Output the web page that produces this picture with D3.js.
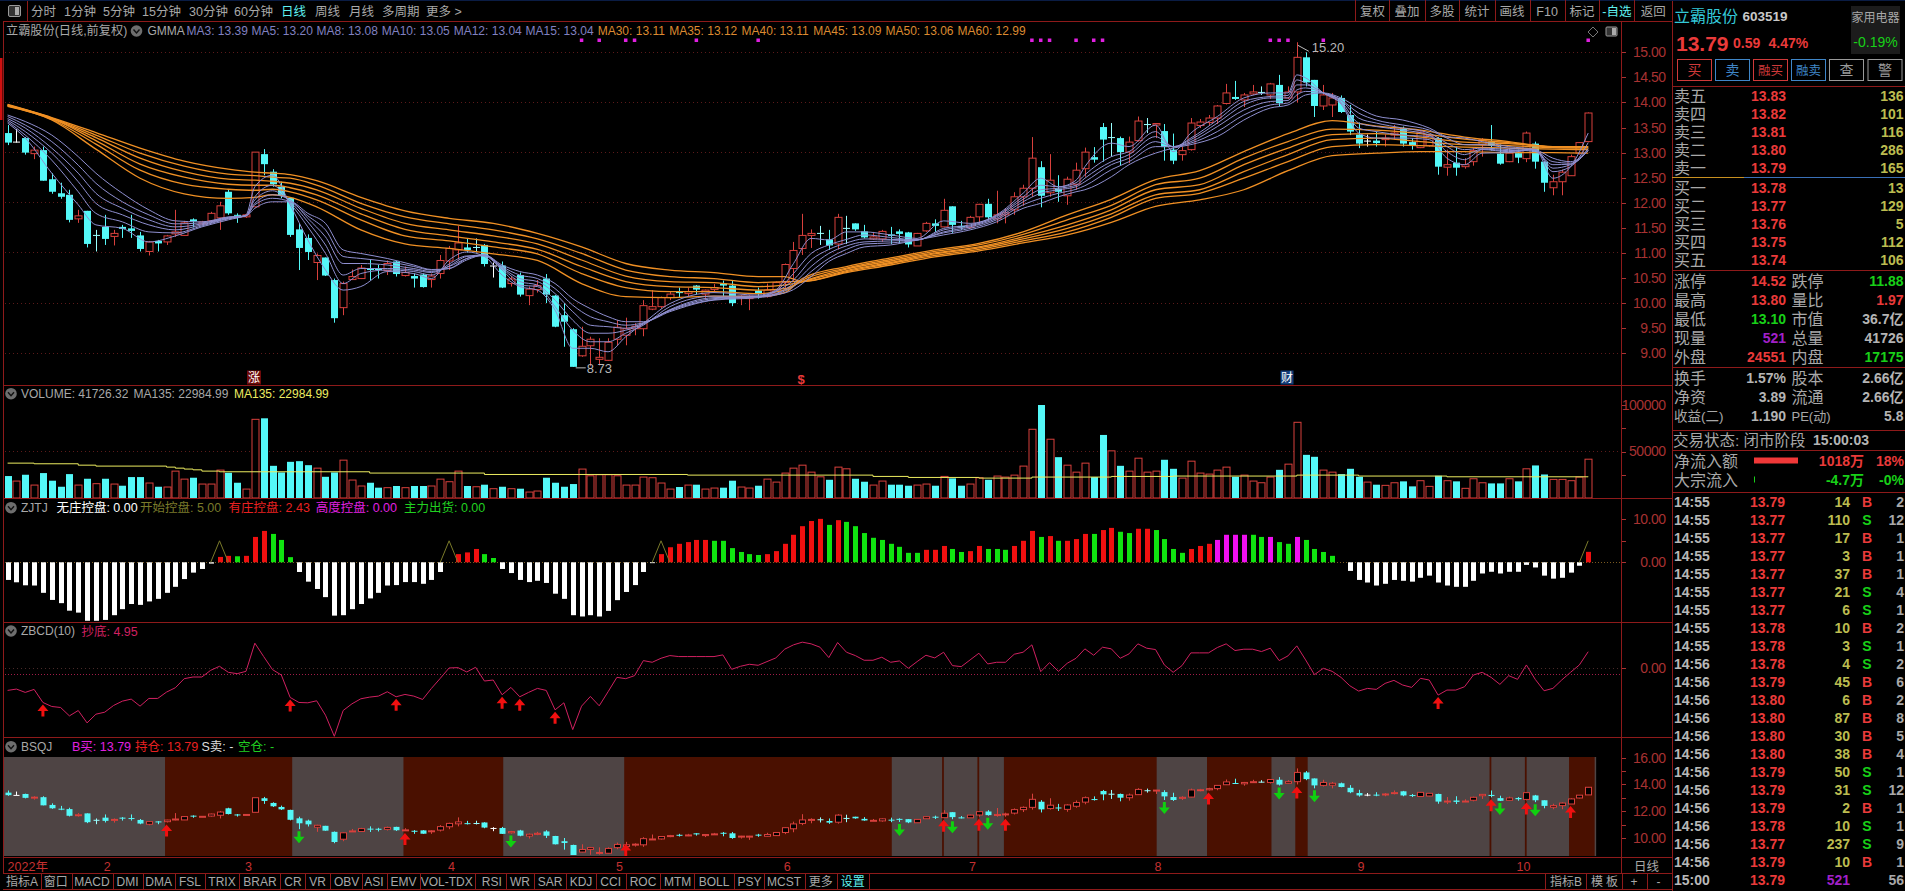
<!DOCTYPE html>
<html><head><meta charset="utf-8">
<script src="https://cdn.jsdelivr.net/npm/d3@7/dist/d3.min.js"></script>
<style>html,body{margin:0;padding:0;background:#000;overflow:hidden}svg{display:block}
text{font-family:"Liberation Sans","Noto Sans CJK SC",sans-serif}</style></head><body>
<svg id="c" width="1905" height="891"></svg>
<script>
// ---------- candle data ----------
const opens=[13.39,13.22,13.29,12.98,13.05,12.47,12.19,12.16,11.68,11.84,
11.36,11.52,11.33,11.52,11.49,11.35,11.03,11.24,11.22,11.38,
11.35,11.67,11.58,11.64,11.70,12.22,11.76,11.72,11.92,12.97,
12.62,12.32,12.10,11.47,11.30,10.81,10.91,10.46,9.91,10.47,
10.49,10.70,10.69,10.65,10.83,10.55,10.54,10.57,10.47,10.59,
10.84,11.06,11.11,11.12,11.16,10.75,10.75,10.39,10.56,10.15,
10.27,10.49,10.15,9.76,9.48,8.95,9.15,8.88,8.86,9.28,
9.36,9.49,9.49,9.88,9.93,10.11,10.24,10.19,10.35,10.18,
10.27,10.39,10.35,10.11,10.09,10.25,10.13,10.18,10.41,10.69,
11.09,11.35,11.40,11.27,11.18,11.50,11.59,11.43,11.28,11.28,
11.37,11.43,11.41,11.14,11.44,11.59,11.52,11.93,11.54,11.51,
11.72,11.98,11.68,11.76,11.86,12.12,12.29,12.71,12.20,12.28,
12.14,12.37,12.68,12.91,13.51,13.31,13.29,13.01,13.24,13.57,
13.55,13.43,13.06,12.96,13.06,13.54,13.60,13.69,13.98,14.11,
14.05,14.17,14.21,14.15,14.35,14.09,14.21,14.90,14.45,13.93,
13.95,14.09,13.75,13.36,13.24,13.24,13.26,13.35,13.49,13.21,
13.10,13.14,13.29,12.71,12.80,12.72,12.82,13.16,13.22,12.98,
12.82,12.99,12.88,13.18,12.82,12.30,12.42,12.54,12.99,13.22];
const closes=[13.20,13.22,13.00,13.05,12.44,12.22,12.12,11.66,11.74,11.18,
11.36,11.28,11.39,11.48,11.44,11.08,11.22,11.19,11.34,11.42,
11.60,11.63,11.62,11.79,11.94,11.79,11.74,11.76,13.01,12.77,
12.37,12.14,11.36,11.10,11.02,10.95,10.55,9.70,10.39,10.53,
10.70,10.66,10.66,10.79,10.58,10.61,10.49,10.32,10.54,10.85,
11.09,11.20,11.06,11.12,10.78,10.75,10.31,10.48,10.17,10.28,
10.35,10.17,9.53,9.63,8.73,9.14,9.28,8.92,9.22,9.52,
9.49,9.54,9.95,9.93,10.11,10.18,10.20,10.23,10.27,10.26,
10.31,10.35,10.00,10.14,10.14,10.18,10.26,10.41,10.77,11.05,
11.35,11.39,11.40,11.15,11.71,11.50,11.47,11.31,11.32,11.43,
11.34,11.38,11.17,11.39,11.59,11.54,11.85,11.56,11.51,11.71,
11.97,11.71,11.76,11.80,12.12,12.29,12.89,12.14,12.45,12.22,
12.47,12.65,13.01,12.86,13.26,13.31,13.01,13.21,13.63,13.57,
13.58,13.11,12.84,13.04,13.59,13.61,13.69,13.93,14.19,14.07,
14.15,14.21,14.21,14.37,13.99,14.21,14.90,14.40,13.93,14.15,
14.09,13.81,13.42,13.18,13.24,13.19,13.29,13.39,13.18,13.14,
13.41,13.34,12.72,12.76,12.70,12.76,13.04,13.26,13.14,12.78,
12.99,12.90,13.39,12.82,12.40,12.42,12.61,12.92,13.20,13.79];
const highs=[13.55,13.47,13.31,13.12,13.12,12.59,12.40,12.26,11.86,11.84,
11.46,11.76,11.46,11.56,11.76,11.42,11.24,11.26,11.36,11.86,
11.64,11.69,11.64,11.82,12.02,12.26,11.79,11.78,13.01,13.07,
12.67,12.42,12.11,11.59,11.37,10.99,10.91,10.49,10.43,10.67,
10.76,10.87,10.76,10.85,10.84,10.73,10.59,10.59,10.59,10.96,
11.14,11.54,11.28,11.29,11.18,10.81,10.83,10.53,10.61,10.33,
10.46,10.58,10.16,10.00,9.50,9.53,9.33,9.30,9.30,9.66,
9.71,9.60,10.06,10.26,10.13,10.23,10.31,10.31,10.36,10.27,
10.38,10.45,10.45,10.16,10.16,10.31,10.39,10.43,10.79,11.22,
11.78,11.47,11.54,11.46,11.78,11.74,11.59,11.56,11.42,11.46,
11.52,11.47,11.42,11.40,11.62,11.67,12.08,11.93,11.64,11.74,
11.98,12.08,12.24,11.89,12.21,12.36,13.31,12.83,12.97,12.55,
12.52,12.80,13.10,13.11,13.59,13.59,13.32,13.32,13.72,13.69,
13.59,13.57,13.38,13.12,13.69,13.67,13.75,13.95,14.37,14.43,
14.19,14.35,14.32,14.39,14.55,14.32,15.20,15.00,14.45,14.35,
14.19,14.14,13.95,13.60,13.36,13.42,13.36,13.55,13.52,13.29,
13.42,13.36,13.31,13.06,13.12,12.89,13.09,13.29,13.55,13.16,
13.09,13.06,13.42,13.22,12.82,12.56,12.66,12.96,13.21,13.80];
const lows=[13.15,13.20,12.96,12.87,12.44,12.18,12.08,11.61,11.60,11.11,
11.03,11.16,11.15,11.30,11.30,11.03,10.95,11.03,11.16,11.32,
11.34,11.51,11.56,11.60,11.46,11.76,11.60,11.70,11.91,12.55,
12.32,12.09,11.32,10.66,10.86,10.46,10.54,9.61,9.76,10.46,
10.48,10.45,10.49,10.56,10.53,10.53,10.31,10.31,10.31,10.49,
10.66,10.87,11.01,11.01,10.73,10.51,10.30,10.33,10.13,9.96,
10.21,10.00,9.52,9.13,8.73,8.93,8.75,8.76,8.85,9.16,
9.16,9.36,9.34,9.86,9.89,10.06,10.11,10.14,10.18,10.07,
10.23,10.13,9.94,9.96,9.86,10.09,10.11,10.16,10.29,10.43,
10.96,11.10,11.16,11.06,11.07,11.18,11.44,11.29,11.26,11.22,
11.18,11.20,11.11,11.14,11.42,11.42,11.51,11.40,11.46,11.50,
11.59,11.67,11.59,11.59,11.76,11.94,12.12,11.91,12.12,12.02,
11.96,12.26,12.52,12.80,12.82,12.92,12.74,12.79,13.22,13.39,
13.29,12.84,12.77,12.84,13.04,13.49,13.55,13.57,13.96,14.05,
13.91,14.15,14.15,14.07,13.92,14.07,14.00,14.32,13.71,13.85,
13.71,13.79,13.35,13.09,13.12,13.12,13.12,13.26,13.12,13.06,
13.09,13.12,12.56,12.54,12.54,12.68,12.74,12.92,13.04,12.76,
12.81,12.79,12.81,12.68,12.22,12.15,12.15,12.54,12.96,13.22];
const whiteCrosses=[1,55,154];
// ---------- GMMA lines (read at these candle positions) ----------
const shortIdx=[0,2,5,8,10,13,16,19,22,25,27,28,30,32,34,36,38,40,43,46,48,50,52,54,56,58,60,62,64,66,68,70,72,75,80,85,87,89,91,93,95,97,100,103,106,109,112,115,117,119,121,122,125,127,130,132,134,137,140,143,145,146,147,149,151,153,155,158,161,163,165,167,170,173,175,177,179];
const ma15=[13.75,13.62,13.35,12.92,12.59,12.19,11.86,11.64,11.62,11.72,11.74,11.89,12.02,12.02,11.79,11.59,11.06,10.99,10.89,10.76,10.67,10.69,10.86,10.96,10.76,10.63,10.56,10.39,10.09,9.89,9.73,9.63,9.63,9.83,10.06,10.11,10.16,10.27,10.53,10.83,10.99,11.12,11.16,11.26,11.36,11.46,11.62,11.89,11.99,12.12,12.22,12.26,12.52,12.76,12.99,13.09,13.16,13.32,13.65,13.89,13.95,14.05,14.15,14.19,14.09,13.89,13.73,13.65,13.49,13.32,13.29,13.22,13.12,13.06,12.89,12.82,13.04];
const ma12=[13.72,13.55,13.22,12.75,12.39,12.02,11.76,11.58,11.60,11.71,11.74,11.96,12.09,12.02,11.74,11.46,10.93,10.89,10.83,10.73,10.66,10.69,10.89,10.96,10.73,10.56,10.49,10.29,9.96,9.73,9.63,9.56,9.61,9.85,10.07,10.13,10.18,10.33,10.63,10.89,11.07,11.18,11.20,11.26,11.40,11.49,11.66,11.96,12.09,12.19,12.27,12.34,12.66,12.82,13.12,13.12,13.19,13.42,13.75,13.95,13.99,14.15,14.22,14.19,14.05,13.79,13.65,13.55,13.45,13.29,13.16,13.16,13.09,13.04,12.82,12.79,13.04];
const ma10=[13.68,13.49,13.09,12.59,12.19,11.89,11.66,11.52,11.58,11.70,11.74,11.99,12.16,12.06,11.69,11.32,10.79,10.79,10.76,10.69,10.63,10.73,10.89,10.96,10.71,10.49,10.43,10.19,9.83,9.56,9.53,9.50,9.60,9.86,10.09,10.13,10.19,10.39,10.73,10.99,11.14,11.22,11.24,11.26,11.42,11.52,11.69,12.02,12.19,12.26,12.32,12.42,12.76,12.89,13.22,13.12,13.22,13.52,13.85,14.02,14.04,14.25,14.29,14.19,14.05,13.69,13.59,13.49,13.39,13.19,13.06,13.09,13.06,13.02,12.76,12.77,13.05];
const ma8=[13.65,13.42,12.99,12.42,11.99,11.76,11.56,11.46,11.56,11.69,11.74,12.06,12.24,12.02,11.62,11.16,10.56,10.69,10.69,10.66,10.61,10.74,10.93,10.96,10.69,10.43,10.36,10.06,9.66,9.40,9.40,9.46,9.58,9.87,10.11,10.13,10.23,10.46,10.86,11.07,11.20,11.28,11.27,11.26,11.46,11.54,11.72,12.07,12.26,12.29,12.35,12.49,12.82,12.96,13.32,13.12,13.26,13.59,13.95,14.09,14.09,14.35,14.35,14.19,14.02,13.59,13.52,13.45,13.35,13.12,12.96,13.07,13.04,13.06,12.69,12.76,13.08];
const ma5=[13.62,13.35,12.85,12.22,11.79,11.62,11.42,11.40,11.54,11.68,11.74,12.12,12.35,11.99,11.52,10.99,10.39,10.59,10.66,10.63,10.56,10.78,10.94,10.94,10.66,10.36,10.33,9.93,9.46,9.23,9.23,9.40,9.56,9.93,10.14,10.14,10.24,10.59,10.99,11.16,11.27,11.36,11.31,11.26,11.49,11.56,11.74,12.12,12.35,12.32,12.40,12.56,12.92,13.02,13.42,13.11,13.29,13.65,14.02,14.12,14.14,14.45,14.39,14.19,13.99,13.49,13.42,13.35,13.32,13.02,12.86,13.06,13.02,13.07,12.62,12.72,13.20];
const ma3=[13.59,13.29,12.59,11.96,11.56,11.49,11.22,11.34,11.52,11.66,11.76,12.32,12.55,11.96,11.26,10.66,10.26,10.33,10.63,10.59,10.49,10.86,11.02,10.93,10.56,10.33,10.26,9.86,9.10,9.10,9.03,9.33,9.60,9.99,10.21,10.16,10.26,10.79,11.29,11.26,11.42,11.42,11.36,11.29,11.64,11.59,11.76,12.19,12.49,12.32,12.45,12.72,13.19,13.12,13.55,13.02,13.39,13.72,14.09,14.19,14.19,14.55,14.49,14.19,13.97,13.39,13.29,13.29,13.26,12.89,12.76,12.99,13.00,13.06,12.49,12.72,13.39];
const longIdx=[0,5,10,15,20,25,28,30,32,35,40,45,50,55,60,65,70,75,80,85,88,90,95,100,105,110,115,120,125,130,135,140,145,150,155,160,165,170,175,179];
const ma60=[13.96,13.70,13.40,13.09,12.83,12.67,12.61,12.59,12.56,12.44,12.11,11.84,11.69,11.59,11.39,11.12,10.79,10.66,10.61,10.53,10.53,10.43,10.61,10.76,10.92,11.04,11.20,11.36,11.61,11.93,12.06,12.26,12.64,12.94,12.99,13.02,13.02,13.00,13.00,12.99];
const ma50=[13.95,13.69,13.35,12.99,12.73,12.57,12.54,12.51,12.49,12.35,11.99,11.72,11.58,11.46,11.28,10.99,10.66,10.53,10.49,10.41,10.43,10.43,10.63,10.79,10.95,11.07,11.24,11.42,11.71,12.09,12.19,12.49,12.82,13.12,13.16,13.14,13.11,13.09,13.07,13.06];
const ma45=[13.94,13.68,13.30,12.89,12.62,12.47,12.45,12.43,12.39,12.26,11.89,11.59,11.46,11.34,11.18,10.86,10.54,10.43,10.41,10.33,10.36,10.43,10.65,10.81,10.98,11.10,11.28,11.49,11.78,12.16,12.26,12.62,12.96,13.26,13.29,13.22,13.16,13.14,13.10,13.09];
const ma40=[13.94,13.68,13.24,12.77,12.51,12.37,12.35,12.35,12.30,12.16,11.78,11.47,11.34,11.22,11.07,10.73,10.43,10.33,10.31,10.26,10.29,10.43,10.68,10.84,11.00,11.12,11.32,11.56,11.86,12.26,12.36,12.76,13.09,13.36,13.38,13.31,13.21,13.18,13.12,13.11];
const ma35=[13.93,13.66,13.17,12.65,12.37,12.27,12.25,12.27,12.22,12.06,11.66,11.34,11.24,11.12,10.98,10.59,10.31,10.23,10.23,10.19,10.26,10.46,10.70,10.87,11.03,11.16,11.37,11.66,11.95,12.36,12.49,12.89,13.22,13.47,13.45,13.38,13.27,13.20,13.12,13.12];
const ma30=[13.92,13.65,13.07,12.49,12.18,12.09,12.11,12.16,12.11,11.92,11.46,11.18,11.09,10.98,10.85,10.39,10.13,10.11,10.14,10.13,10.21,10.49,10.73,10.90,11.06,11.19,11.42,11.76,12.07,12.46,12.64,13.02,13.38,13.64,13.53,13.45,13.31,13.22,13.11,13.11];
const signalDots=[65,67,70,71,78,85,116,117,118,121,123,124,143,144,145,149,179];
const priceTicks=[9,9.5,10,10.5,11,11.5,12,12.5,13,13.5,14,14.5,15];
const priceGrid=[9,10,11,12,13,14,15];
// ---------- volume ----------
const volumes=[23600,18200,25000,13900,26800,18600,12100,25700,13900,20700,
15400,20700,15000,13200,22500,22500,16100,12100,11800,28900,
20300,21800,15000,15000,30000,27100,16400,9600,84600,85700,
34600,27500,38900,39600,35300,32100,22800,27500,40700,19300,
12900,16400,11100,11100,12900,11100,12900,12900,12900,20300,
17500,28900,12900,12100,14300,10000,12100,10000,10000,6400,
7500,21800,16400,12100,15000,31100,23900,25000,25000,23900,
13900,13900,22500,21800,16100,9600,11800,13900,14300,9600,
10700,11100,18600,11800,10700,13200,20300,17100,26800,32100,
35300,27800,22800,19600,33200,31400,20700,17500,13900,18200,
14300,14300,13200,13900,15000,13200,23200,21100,13200,15000,
21800,19600,23600,22500,24600,34300,73900,100000,63200,43900,
35300,27800,37500,22500,67800,50700,34600,28900,42800,27800,
28900,41100,31400,21400,39600,26800,25700,30000,33200,22800,
24600,18200,16400,22500,30300,36400,81400,46400,44300,30000,
27800,25700,31400,22800,17100,14300,13600,16400,17900,12500,
18600,12500,23900,18600,17900,10400,20700,16400,15700,15700,
20700,17900,31400,35000,25300,20000,20000,18600,22500,41726];
const ma135Idx=[0,3,8,10,18,19,20,21,22,24,41,54,77,98,102,110,116,125,132,146,153,163,179];
const ma135Val=[37500,36800,35300,34300,33200,32100,31100,30300,28900,28200,26800,25300,24600,23200,22100,21400,22500,23200,23600,24600,23600,22800,22985];
// ---------- ZJTJ ----------
const zjtj=[-4.1,-4.65,-5.35,-5.4,-7.1,-8.75,-9.5,-11.25,-11.7,-13.6,
-13.6,-13.4,-12.3,-10.9,-9.7,-9.9,-9.1,-8.5,-7.1,-5.7,
-3.9,-2.4,-1.55,-0.3,1.25,1.5,1.4,1.5,5.9,7.3,
6.6,5.2,1.2,-2.25,-4.5,-6.2,-8.1,-12.4,-12.3,-10.9,
-9.7,-8.4,-7.1,-5.4,-5.3,-4.6,-4.6,-5.0,-4.1,-2.25,
0,1.9,2.3,3.1,1.9,1.0,-1.55,-2.5,-4.1,-4.6,
-4.3,-4.8,-7.3,-8.5,-12.3,-12.6,-12.3,-12.6,-11.3,-8.8,
-6.9,-5.3,-2.25,-0.2,1.9,3.5,4.3,4.7,5.2,5.2,
5.0,5.0,3.3,2.4,1.9,1.7,1.9,2.6,4.3,6.4,
8.4,9.6,10.1,8.7,9.8,9.4,8.4,6.8,5.7,5.2,
4.3,3.6,2.2,2.2,2.9,2.9,3.8,3.1,2.4,2.6,
3.8,3.1,3.1,2.9,3.8,5.0,7.3,5.9,6.1,5.0,
5.0,5.4,6.6,6.6,7.5,8.0,7.1,6.8,7.8,7.8,
7.5,5.4,3.1,2.2,3.1,3.8,4.3,5.2,6.4,6.4,
6.4,6.4,5.9,5.9,4.7,4.3,5.9,5.2,3.1,2.4,
1.5,0,-2.0,-4.1,-4.7,-5.4,-5.0,-4.1,-4.3,-4.5,
-3.6,-3.1,-4.7,-5.4,-5.7,-5.7,-4.3,-2.6,-2.2,-2.6,
-2.2,-2.2,-0.6,-1.2,-3.1,-3.8,-3.6,-2.4,-0.8,2.43];
const zjtjGreen=[26,30,31,32,54,55,80,81,82,83,84,85,93,95,96,97,98,99,100,101,102,103,107,108,111,112,113,117,119,123,126,127,130,131,132,133,141,142,144,145,147,148,149,150];
const zjtjMagenta=[137,138,139,140,143,146];
const zjtjStart=[24,50,74,179];
// ---------- ZBCD ----------
const zbcd=[-6.6,-6.2,-7.2,-6.3,-10.2,-11.4,-11.7,-14.2,-12.6,-16.3,
-13.7,-13.1,-11.1,-9.8,-9.2,-11.3,-9.0,-9.0,-7.1,-5.8,
-3.1,-2.6,-2.6,-0.6,0.6,-1.2,-1.6,-0.9,7.5,3.5,
-0.4,-2.0,-8.7,-10.2,-10.3,-9.7,-14.0,-20.3,-12.6,-10.6,
-9.1,-8.6,-8.3,-7.0,-8.5,-7.8,-8.3,-9.3,-6.0,-3.0,
0.1,0.2,-1.1,0.3,-3.8,-3.5,-7.9,-5.7,-8.5,-7.2,
-6.0,-6.6,-12.4,-10.3,-18.3,-11.3,-8.4,-11.2,-7.0,-2.7,
-3.1,-2.2,2.3,1.8,3.0,3.8,3.5,3.5,3.5,3.5,
3.5,4.0,-0.3,0.6,1.2,0.9,2.0,3.1,5.7,7.0,
7.8,7.3,6.3,3.2,7.7,4.8,3.8,2.4,2.4,3.3,
1.8,2.2,0.0,2.0,3.9,3.1,4.8,0.8,0.5,2.5,
4.5,1.3,1.8,1.8,4.2,4.8,7.0,-1.0,1.7,-0.9,
1.5,3.0,5.8,3.9,6.3,5.8,3.0,4.3,7.3,6.0,
5.6,1.0,-1.2,0.8,4.6,4.6,4.6,6.2,7.3,5.3,
5.7,5.7,5.0,6.0,2.3,3.7,6.7,2.5,-1.9,0,
-0.9,-2.7,-5.2,-6.8,-6.0,-6.3,-4.5,-3.6,-5.0,-5.7,
-3.0,-3.5,-8.0,-6.5,-6.5,-5.5,-2.0,-1.2,-2.7,-4.8,
-2.2,-3.3,1.0,-3.3,-6.7,-6.0,-3.5,-1.2,1.0,4.95];
const zbcdBuy=[4,32,44,56,58,62,162];
// ---------- BSQJ ----------
const holdRanges=[[18,32.4],[45,56.3],[70,100.3],[106,106.2],[110,110.2],[113,130.3],[136,143.3],[146,147.4],[168,168.2],[172,172.2],[177,179.9]];
const buyArrows=[18,45,70,106,110,113,136,146,168,172,177];
const sellArrows=[33,57,101,107,111,131,144,148,169,173];
const bsqjTicks=[10,11,12,13,14,15,16];
const bsqjLabelled=[10,12,14,16];
// ---------- calendar ----------
const monthIdx=[0,11,27,50,69,88,109,130,153,171];
const monthLabels=["2022年","2","3","4","5","6","7","8","9","10"];
// ---------- chrome text ----------
const topTabs=["分时","1分钟","5分钟","15分钟","30分钟","60分钟","日线","周线","月线","多周期","更多 >"];
const topTabX=[31,64,103,142,189,234,281,315,349,382,426];
const topRight=["复权","叠加","多股","统计","画线","F10","标记","-自选","返回"];
const topRightSep=[1355.4,1389.4,1424.6,1459.4,1494.5,1529.7,1564.5,1599.3,1634.4,1672];
const shortLegend=["MA3: 13.39","MA5: 13.20","MA8: 13.08","MA10: 13.05","MA12: 13.04","MA15: 13.04"];
const shortLegendX=[186.5,251.5,316.6,381.7,453.7,525.6];
const longLegend=["MA30: 13.11","MA35: 13.12","MA40: 13.11","MA45: 13.09","MA50: 13.06","MA60: 12.99"];
const longLegendX=[597.7,669.2,741.6,813.3,885.5,957.6];
const asks=[["卖五","13.83","136"],["卖四","13.82","101"],["卖三","13.81","116"],["卖二","13.80","286"],["卖一","13.79","165"]];
const bids=[["买一","13.78","13"],["买二","13.77","129"],["买三","13.76","5"],["买四","13.75","112"],["买五","13.74","106"]];
const stats=[["涨停","14.52","跌停","11.88","r","g"],["最高","13.80","量比","1.97","r","r"],["最低","13.10","市值","36.7亿","g","w"],["现量","521","总量","41726","p","w"],["外盘","24551","内盘","17175","r","g"]];
const stats2=[["换手","1.57%","股本","2.66亿"],["净资","3.89","流通","2.66亿"],["收益(二)","1.190","PE(动)","5.8"]];
const buttons=[["买","#d03a3a"],["卖","#3f86c8"],["融买","#d03a3a"],["融卖","#3f86c8"],["查","#9a9a9a"],["警","#9a9a9a"]];
const buttonX=[1677,1715,1753,1791,1829,1867.5];
const trades=[["14:55","13.79","14","B","2"],["14:55","13.77","110","S","12"],["14:55","13.77","17","B","1"],["14:55","13.77","3","B","1"],["14:55","13.77","37","B","1"],["14:55","13.77","21","S","4"],["14:55","13.77","6","S","1"],["14:55","13.78","10","B","2"],["14:55","13.78","3","S","1"],["14:56","13.78","4","S","2"],["14:56","13.79","45","B","6"],["14:56","13.80","6","B","2"],["14:56","13.80","87","B","8"],["14:56","13.80","30","B","5"],["14:56","13.80","38","B","4"],["14:56","13.79","50","S","1"],["14:56","13.79","31","S","12"],["14:56","13.79","2","B","1"],["14:56","13.78","10","S","1"],["14:56","13.77","237","S","9"],["14:56","13.79","10","B","1"],["15:00","13.79","521","","56"]];
const bottomTabs=["指标A","窗口","MACD","DMI","DMA","FSL","TRIX","BRAR","CR","VR","OBV","ASI","EMV","VOL-TDX","RSI","WR","SAR","KDJ","CCI","ROC","MTM","BOLL","PSY","MCST","更多","设置","指标B","模","板","+","-"];
const bottomTabX=[21.9,55.7,92,127.5,158.6,190,222,260,293,317.7,346.6,374,403.4,446.8,491.8,520,550,581,610.7,643,677.7,714,749.5,784,820.7,852.8,1566,1597,1612,1634,1658.6];
const bottomSep=[40.7,71.8,112.5,142.5,174.6,204.6,239,279.6,305,330,362,386.8,420,474.6,505.7,533.6,565.7,595.7,625.7,660,694,734,764,804.6,836.8,869,1545,1585.7,1622,1647,1672];

// ---------- palette ----------
const FRAME="#8e1a1a",AXIS="#a83232",DOT="#5c1a1a",UP="#d8403c",DOWN="#54f8f8",LAV="#8f8fd0",LAVT="#8080c0",ORG="#f09024",ORGT="#dc8a30",GRY="#a8a8a8";
const PR="#ea3a3a",GR="#18d018",YV="#bcbc50";

const svg=d3.select("#c");
const x=d3.scaleLinear().domain([0,179]).range([7.6,1588.2]);
const yPrice=d3.scaleLinear().domain([9,15]).range([353.3,52.3]);
const yVol=d3.scaleLinear().domain([0,100000]).range([498,405]);
const yZ=d3.scaleLinear().domain([0,10]).range([562.3,519.3]);
const yB=d3.scaleLinear().domain([0,10]).range([668.3,634.8]);
const yS=d3.scaleLinear().domain([10,16]).range([838,757.7]);
const n=closes.length, idx=d3.range(n);

function T(g,px,py,s,c,size,anchor,weight){
  return g.append("text").attr("x",px).attr("y",py).attr("dy","0.36em").attr("fill",c)
   .attr("font-size",size||12).attr("text-anchor",anchor||"start").attr("font-weight",weight||"normal").text(s);
}
function hline(g,x1,x2,y,c,dash){const l=g.append("line").attr("x1",x1).attr("x2",x2).attr("y1",y).attr("y2",y).attr("stroke",c).attr("stroke-width",1).attr("shape-rendering","crispEdges");if(dash)l.attr("stroke-dasharray",dash);return l;}
function vline(g,px,y1,y2,c){return g.append("line").attr("x1",px).attr("x2",px).attr("y1",y1).attr("y2",y2).attr("stroke",c).attr("stroke-width",1).attr("shape-rendering","crispEdges");}

function candles(g,y,bodyW){
  const item=g.selectAll("g.c").data(idx).join("g").attr("class","c");
  const col=i=>closes[i]>opens[i]?UP:(closes[i]<opens[i]?DOWN:(whiteCrosses.includes(i)?"#fff":"#9ff"));
  item.append("line").attr("x1",i=>Math.round(x(i))+.5).attr("x2",i=>Math.round(x(i))+.5)
    .attr("y1",i=>y(highs[i])).attr("y2",i=>y(lows[i])).attr("stroke",col).attr("stroke-width",1);
  item.append("rect").attr("x",i=>Math.round(x(i))-bodyW/2+.5).attr("width",bodyW)
    .attr("y",i=>y(Math.max(opens[i],closes[i])))
    .attr("height",i=>Math.max(1,y(Math.min(opens[i],closes[i]))-y(Math.max(opens[i],closes[i]))))
    .attr("fill",i=>closes[i]>opens[i]?"#000":col(i)).attr("stroke",col).attr("stroke-width",i=>closes[i]>opens[i]?1:0);
}
function arrowUp(g,px,tip,c,len){
  g.append("path").attr("fill",c).attr("d",d3.line()([[px,tip],[px+5.5,tip+6.5],[px+1.5,tip+6.5],[px+1.5,tip+len],[px-1.5,tip+len],[px-1.5,tip+6.5],[px-5.5,tip+6.5]])+"Z");
}
function arrowDown(g,px,top,c,len){
  const e=top+len;
  g.append("path").attr("fill",c).attr("d",d3.line()([[px,e],[px+5.5,e-6.5],[px+1.5,e-6.5],[px+1.5,top],[px-1.5,top],[px-1.5,e-6.5],[px-5.5,e-6.5]])+"Z");
}
function chev(g,cx,cy){
  g.append("circle").attr("cx",cx).attr("cy",cy).attr("r",5.8).attr("fill","#6e6e6e");
  g.append("path").attr("d",d3.line()([[cx-3,cy-1.5],[cx,cy+2],[cx+3,cy-1.5]])).attr("fill","none").attr("stroke","#111").attr("stroke-width",1.4);
}
function axis(sc,ticks,labels,fmt){
  const g=svg.append("g").attr("transform","translate(1621,0)");
  g.call(d3.axisRight(sc).tickValues(ticks).tickSize(5).tickFormat(d=>labels.includes(d)?fmt(d):""));
  g.select(".domain").remove();
  g.selectAll("line").attr("stroke",AXIS).attr("shape-rendering","crispEdges");
  g.selectAll("text").attr("fill",AXIS).attr("x",44.5).attr("text-anchor","end").attr("font-size",14)
   .attr("font-family",'"Liberation Sans"').attr("letter-spacing","-0.5");
}

// ---------- price panel ----------
const pG=svg.append("g");
priceGrid.forEach(v=>hline(pG,5,1621,yPrice(v),DOT,"1 3"));
candles(pG.append("g"),yPrice,7);
const lineOf=(ids)=>d3.line().x((d,j)=>x(ids[j])).y(d=>yPrice(d)).curve(d3.curveMonotoneX);
[ma30,ma35,ma40,ma45,ma50,ma60].forEach(a=>pG.append("path").attr("d",lineOf(longIdx)(a)).attr("fill","none").attr("stroke",ORG).attr("stroke-width",1.3));
[ma15,ma12,ma10,ma8,ma5,ma3].forEach(a=>pG.append("path").attr("d",lineOf(shortIdx)(a)).attr("fill","none").attr("stroke",LAV).attr("stroke-width",1));
pG.selectAll("rect.sig").data(signalDots).join("rect").attr("class","sig").attr("x",i=>x(i)-1.75).attr("y",38.5).attr("width",3.5).attr("height",3.5).attr("fill","#e020e0");
// high / low tags
const hi=d3.max(highs),lo=d3.min(lows),hiI=highs.indexOf(hi),loI=lows.indexOf(lo);
pG.append("path").attr("d",d3.line()([[x(hiI)+1,yPrice(hi)+3],[x(hiI)+12,yPrice(hi)+9]])).attr("stroke","#bbb").attr("fill","none");
T(pG,x(hiI)+15,47,hi.toFixed(2),"#b8b8b8",13);
pG.append("path").attr("d",d3.line()([[x(loI)+3,yPrice(lo)+1],[x(loI)+13,yPrice(lo)+1]])).attr("stroke","#bbb").attr("fill","none");
T(pG,x(loI)+14,368.5,lo.toFixed(2),"#b8b8b8",13);
// event flags
pG.append("rect").attr("x",247).attr("y",370.5).attr("width",14).attr("height",14).attr("fill","#6e0a0a");
T(pG,254,377.5,"涨","#fff",12,"middle");
T(pG,801,379,"$",PR,13,"middle","bold");
pG.append("rect").attr("x",1280.5).attr("y",370.5).attr("width",13).attr("height",14).attr("fill","#123c78");
T(pG,1287,377.5,"财","#fff",12,"middle");
axis(yPrice,priceTicks,priceTicks,d=>d.toFixed(2));

// ---------- volume panel ----------
const vG=svg.append("g");
hline(vG,5,1621,yVol(50000),DOT,"1 3");
const bw=7;
vG.selectAll("rect").data(idx).join("rect").attr("x",i=>Math.round(x(i))-bw/2+.5).attr("width",bw)
 .attr("y",i=>yVol(volumes[i])).attr("height",i=>yVol(0)-yVol(volumes[i]))
 .attr("fill",i=>closes[i]>=opens[i]?"#000":DOWN).attr("stroke",i=>closes[i]>=opens[i]?UP:"none").attr("stroke-width",1);
vG.append("path").attr("d",d3.line().x((d,j)=>x(ma135Idx[j])).y(d=>yVol(d)).curve(d3.curveStepAfter)(ma135Val)).attr("fill","none").attr("stroke","#ecec60").attr("stroke-width",1);
axis(yVol,[25000,50000,75000,100000],[50000,100000],d=>String(d));

// ---------- ZJTJ panel ----------
const zG=svg.append("g");
hline(zG,5,1621,yZ(0),"#7a5a20","1 2");
zG.selectAll("rect").data(idx.filter(i=>zjtj[i]!==0)).join("rect").attr("x",i=>Math.round(x(i))-2.5+.5).attr("width",5)
 .attr("y",i=>Math.min(yZ(0),yZ(zjtj[i]))).attr("height",i=>Math.abs(yZ(zjtj[i])-yZ(0)))
 .attr("fill",i=>zjtj[i]<0?"#fff":zjtjMagenta.includes(i)?"#f010f0":zjtjGreen.includes(i)?"#10e410":"#f01010");
zjtjStart.forEach(i=>{
  const pts=[[x(i-1),yZ(0)],[x(i),yZ(5)]]; if(i<179)pts.push([x(i+1),yZ(0)]);
  zG.append("path").attr("d",d3.line()(pts)).attr("fill","none").attr("stroke","#7a7a2a").attr("stroke-width",1);
});
axis(yZ,[0,5,10],[0,10],d=>d.toFixed(2));

// ---------- ZBCD panel ----------
const bG=svg.append("g");
hline(bG,5,1621,yB(0),"#4a2a2a","1 3");
hline(bG,5,1621,yB(-1.8),"#a01c48","1 2");
bG.append("path").attr("d",d3.line().x((d,i)=>x(i)).y(d=>yB(d))(zbcd)).attr("fill","none").attr("stroke","#d02060").attr("stroke-width",1);
zbcdBuy.forEach(i=>arrowUp(bG,x(i),yB(zbcd[i])+2,"#f01010",12));
axis(yB,[0],[0],d=>d.toFixed(2));

// ---------- BSQJ panel ----------
const sG=svg.append("g");
const bandTop=757,bandBot=856;
sG.append("rect").attr("x",3.5).attr("y",bandTop).attr("width",x(179.9)-3.5).attr("height",bandBot-bandTop).attr("fill","#4e4444");
sG.selectAll("rect.h").data(holdRanges).join("rect").attr("class","h")
 .attr("x",d=>x(d[0])-1.5).attr("width",d=>x(d[1])-x(d[0])).attr("y",bandTop).attr("height",bandBot-bandTop).attr("fill","#4a1000");
candles(sG.append("g"),yS,6);
buyArrows.forEach(i=>arrowUp(sG,x(i),Math.min(yS(lows[i])+2,bandBot-12),"#f01010",12));
sellArrows.forEach(i=>arrowDown(sG,x(i),yS(lows[i])+2,"#10d010",12));
axis(yS,bsqjTicks,bsqjLabelled,d=>d.toFixed(2));

// ---------- frame lines ----------
const fG=svg.append("g");
[21,385.5,498.5,622,737.5,857.5,873,889].forEach(v=>hline(fG,3,1672,v,FRAME));
vline(fG,3.5,21,873,FRAME);
vline(fG,1621.5,21,873,FRAME);
vline(fG,1672.5,0,891,FRAME);
vline(fG,27.5,0,21,FRAME);
fG.append("rect").attr("x",0).attr("y",58).attr("width",2.5).attr("height",62).attr("fill","#d01010");
hline(fG,0,1905,0,"#0a1c44");

// ---------- top toolbar ----------
const tG=svg.append("g");
tG.append("rect").attr("x",8.5).attr("y",5.5).attr("width",12).attr("height",11).attr("rx",1.5).attr("fill","#333").attr("stroke","#999");
tG.append("rect").attr("x",15).attr("y",7).attr("width",4).attr("height",8).attr("fill","#aaa");
topTabs.forEach((s,i)=>T(tG,topTabX[i],11,s,s==="日线"?"#5ff0f0":GRY,12.5));
topRight.forEach((s,i)=>T(tG,(topRightSep[i]+topRightSep[i+1])/2,11,s,s==="-自选"?"#5ff0f0":GRY,12.5,"middle"));
topRightSep.slice(0,-1).forEach(v=>vline(tG,Math.round(v)+.5,0,21,FRAME));

// ---------- legends ----------
const lG=svg.append("g");
T(lG,6,31,"立霸股份(日线,前复权)",GRY,12.2);
chev(lG,136.5,31);
T(lG,147.5,31,"GMMA",GRY,12);
shortLegend.forEach((s,i)=>T(lG,shortLegendX[i],31,s,LAVT,12));
longLegend.forEach((s,i)=>T(lG,longLegendX[i],31,s,ORGT,12));
// chart-mode glyphs on the right of the title row
lG.append("path").attr("d","M1593 27 L1598 32 L1593 37 L1588 32 Z").attr("fill","none").attr("stroke","#777");
lG.append("rect").attr("x",1606).attr("y",27).attr("width",11).attr("height",9).attr("rx",1).attr("fill","#333").attr("stroke","#999");
lG.append("rect").attr("x",1612).attr("y",28).attr("width",4).attr("height",7).attr("fill","#aaa");
chev(lG,11,393.7);
T(lG,21,393.7,"VOLUME: 41726.32",GRY,12);
T(lG,133.6,393.7,"MA135: 22984.99",GRY,12);
T(lG,234,393.7,"MA135: 22984.99","#ecec60",12);
chev(lG,11,507.7);
T(lG,21,507.7,"ZJTJ",GRY,12);
T(lG,56.4,507.7,"无庄控盘: 0.00","#fff",12.5);
T(lG,140,507.7,"开始控盘: 5.00","#7a7a2a",12.5);
T(lG,228.6,507.7,"有庄控盘: 2.43","#e82020",12.5);
T(lG,315.7,507.7,"高度控盘: 0.00","#e020e0",12.5);
T(lG,404,507.7,"主力出货: 0.00","#20d020",12.5);
chev(lG,11,631);
T(lG,21,631,"ZBCD(10)",GRY,12);
T(lG,81.5,631,"抄底: 4.95","#d02060",12.5);
chev(lG,11,746.7);
T(lG,21,746.7,"BSQJ",GRY,12);
T(lG,72,746.7,"B买: 13.79","#e020e0",12.5);
T(lG,135,746.7,"持仓: 13.79","#e82020",12.5);
T(lG,201.5,746.7,"S卖: -","#ddd",12.5);
T(lG,238,746.7,"空仓: -","#20d020",12.5);

// ---------- date axis and bottom tabs ----------
const dG=svg.append("g");
monthIdx.forEach((i,k)=>T(dG,x(i)-(k?1:0),866,monthLabels[k],"#c43030",12.5));
T(dG,1634,866,"日线",GRY,12.5);
const tabG=svg.append("g");
bottomTabs.forEach((s,i)=>T(tabG,bottomTabX[i],881.5,s,s==="设置"?"#5ff0f0":GRY,12,"middle"));
bottomSep.forEach(v=>vline(tabG,Math.round(v)+.5,873,889,FRAME));

// ---------- right quote panel ----------
const R=svg.append("g");
const L=1674,V1=1786,L2=1791.5,V2=1903.5;
T(R,L,16,"立霸股份","#33c8d8",16);
T(R,1742.5,16,"603519","#c8c8c8",13.5,"start","bold");
R.append("rect").attr("x",1851).attr("y",6).attr("width",49).attr("height",48).attr("fill","#1c1c1c");
T(R,1875.5,18,"家用电器",GRY,12,"middle");
T(R,1875.5,42,"-0.19%",GR,14,"middle");
T(R,1676,43,"13.79",PR,21,"start","bold");
T(R,1733,43,"0.59",PR,14,"start","bold");
T(R,1768.5,43,"4.47%",PR,14,"start","bold");
buttons.forEach((b,i)=>{
  R.append("rect").attr("x",buttonX[i]+.5).attr("y",59.5).attr("width",34).attr("height",21).attr("fill","none").attr("stroke",b[1]);
  T(R,buttonX[i]+17.5,70,b[0],b[1],b[0].length>1?12.5:14,"middle");
});
hline(R,1672,1905,86.5,FRAME);
function bookRow(r,yy){T(R,L,yy,r[0],GRY,16);T(R,V1,yy,r[1],PR,14,"end","bold");T(R,V2,yy,r[2],YV,14,"end","bold");}
asks.forEach((r,i)=>bookRow(r,96+18*i));
hline(R,1672,1744,177.5,"#c89020");hline(R,1744,1905,177.5,"#3a70b8");
bids.forEach((r,i)=>bookRow(r,188+18*i));
hline(R,1672,1905,270.5,FRAME);
const cc={r:PR,g:GR,w:"#b4b4b4",p:"#a020c8"};
stats.forEach((r,i)=>{const yy=281+19*i;
  T(R,L,yy,r[0],GRY,16);T(R,V1,yy,r[1],cc[r[4]],14,"end","bold");
  T(R,L2,yy,r[2],GRY,16);T(R,V2,yy,r[3],cc[r[5]],14,"end","bold");});
hline(R,1672,1905,367.5,FRAME);
stats2.forEach((r,i)=>{const yy=378+19*i;
  T(R,L,yy,r[0],GRY,i===2?13.5:16);T(R,V1,yy,r[1],"#b4b4b4",14,"end","bold");
  T(R,L2,yy,r[2],GRY,i===2?13:16);T(R,V2,yy,r[3],"#b4b4b4",14,"end","bold");});
hline(R,1672,1905,430.5,FRAME);
T(R,1673,440,"交易状态: 闭市阶段",GRY,15.5);
T(R,1813,440,"15:00:03","#b4b4b4",14,"start","bold");
hline(R,1672,1905,450.5,FRAME);
T(R,L,461,"净流入额",GRY,16);
R.append("rect").attr("x",1754).attr("y",457.5).attr("width",44).attr("height",6).attr("fill","#f03838");
T(R,1864,461,"1018万",PR,14,"end","bold");T(R,1904,461,"18%",PR,14,"end","bold");
T(R,L,480,"大宗流入",GRY,16);
R.append("rect").attr("x",1754).attr("y",476.5).attr("width",1).attr("height",6).attr("fill",GR);
T(R,1864,480,"-4.7万",GR,14,"end","bold");T(R,1904,480,"-0%",GR,14,"end","bold");
hline(R,1672,1905,492.5,FRAME);
trades.forEach((r,i)=>{const yy=502+18*i;
  T(R,L,yy,r[0],"#b8b8b8",14,"start","bold");
  T(R,1785,yy,r[1],PR,14,"end","bold");
  T(R,1850,yy,r[2],i===21?"#a020c8":YV,14,"end","bold");
  if(r[3])T(R,1867,yy,r[3],r[3]==="B"?PR:GR,14,"middle","bold");
  T(R,1904,yy,r[4],"#a8a8a8",14,"end","bold");
});
</script></body></html>
